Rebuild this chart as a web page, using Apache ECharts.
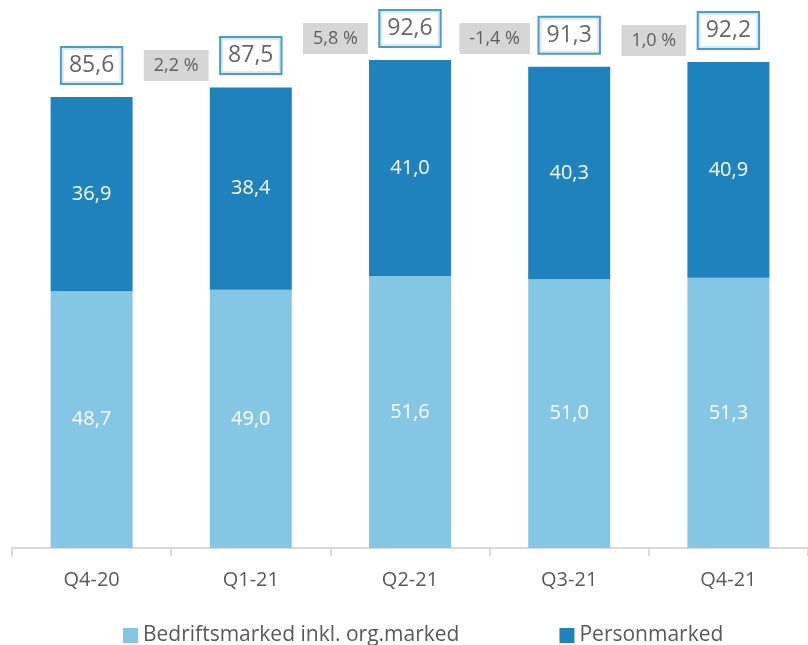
<!DOCTYPE html>
<html>
<head>
<meta charset="utf-8">
<script src="https://cdn.jsdelivr.net/npm/echarts@6/dist/echarts.min.js"></script>
<style>
  html, body { margin: 0; padding: 0; background: #ffffff; }
  #chart { width: 808px; height: 645px; }
</style>
</head>
<body>
<div id="chart"></div>
<script>
// Quarterly volumes (billions), split by market segment
const quarters = ['Q4-20', 'Q1-21', 'Q2-21', 'Q3-21', 'Q4-21'];
const bedrift = [48.7, 49.0, 51.6, 51.0, 51.3];
const person = [36.9, 38.4, 41.0, 40.3, 40.9];
const totals = [85.6, 87.5, 92.6, 91.3, 92.2];
// Quarter-on-quarter growth in percent
const growth = [2.2, 5.8, -1.4, 1.0];

const FONT = 'Open Sans';
const DARK = '#1F82BD';
const LIGHT = '#86C6E5';
const TEXT = '#595959';

const fmt = v => v.toFixed(1).replace('.', ',');

// Growth badges sit on the boundary between two quarters,
// just above the taller of the two adjacent bars
const growthPoints = growth.map((g, i) => ({
  value: [i + 1, Math.max(totals[i], totals[i + 1])],
  label: { formatter: (g < 0 ? '-' : '') + fmt(Math.abs(g)) + ' %' }
}));

const chart = echarts.init(document.getElementById('chart'));
chart.setOption({
  animation: false,
  textStyle: { fontFamily: FONT },
  grid: { left: 12, right: -4, top: 21, bottom: 97 },
  legend: {
    top: 620,
    left: 118,
    itemWidth: 15,
    itemHeight: 15,
    itemGap: 100,
    icon: 'rect',
    textStyle: { fontFamily: FONT, fontSize: 21, color: TEXT },
    data: ['Bedriftsmarked inkl. org.marked', 'Personmarked']
  },
  xAxis: [{
    type: 'category',
    data: quarters,
    axisLine: { lineStyle: { color: '#D9D9D9', width: 2 } },
    axisTick: { show: true, length: 8, lineStyle: { color: '#D9D9D9', width: 2 } },
    axisLabel: { color: TEXT, fontSize: 20, margin: 22, fontFamily: FONT }
  }, {
    type: 'value',
    min: 0,
    max: 5,
    show: false
  }],
  yAxis: { type: 'value', min: 0, max: 100, show: false },
  series: [{
    name: 'Bedriftsmarked inkl. org.marked',
    type: 'bar',
    stack: 'tot',
    barWidth: 82,
    data: bedrift,
    itemStyle: { color: LIGHT },
    label: {
      show: true, position: 'inside', color: '#ffffff', fontSize: 20,
      fontFamily: FONT, formatter: p => fmt(p.value)
    }
  }, {
    name: 'Personmarked',
    type: 'bar',
    stack: 'tot',
    barWidth: 82,
    data: person,
    itemStyle: { color: DARK },
    label: {
      show: true, position: 'inside', color: '#ffffff', fontSize: 20,
      fontFamily: FONT, formatter: p => fmt(p.value)
    }
  }, {
    name: 'Total',
    type: 'scatter',
    symbolSize: 0,
    data: totals,
    silent: true,
    label: {
      show: true,
      position: 'top',
      distance: 14,
      formatter: p => fmt(p.value),
      color: '#404040',
      fontSize: 23,
      fontFamily: FONT,
      backgroundColor: '#ffffff',
      borderColor: DARK,
      borderWidth: 2,
      padding: [0, 7],
      lineHeight: 35
    }
  }, {
    name: 'Vekst',
    type: 'scatter',
    xAxisIndex: 1,
    symbolSize: 0,
    data: growthPoints,
    silent: true,
    label: {
      show: true,
      position: 'top',
      distance: 6,
      offset: [5, 0],
      color: '#404040',
      fontSize: 18,
      fontFamily: FONT,
      backgroundColor: '#CCCCCC',
      padding: [0, 10],
      lineHeight: 31
    }
  }]
});
</script>
</body>
</html>
